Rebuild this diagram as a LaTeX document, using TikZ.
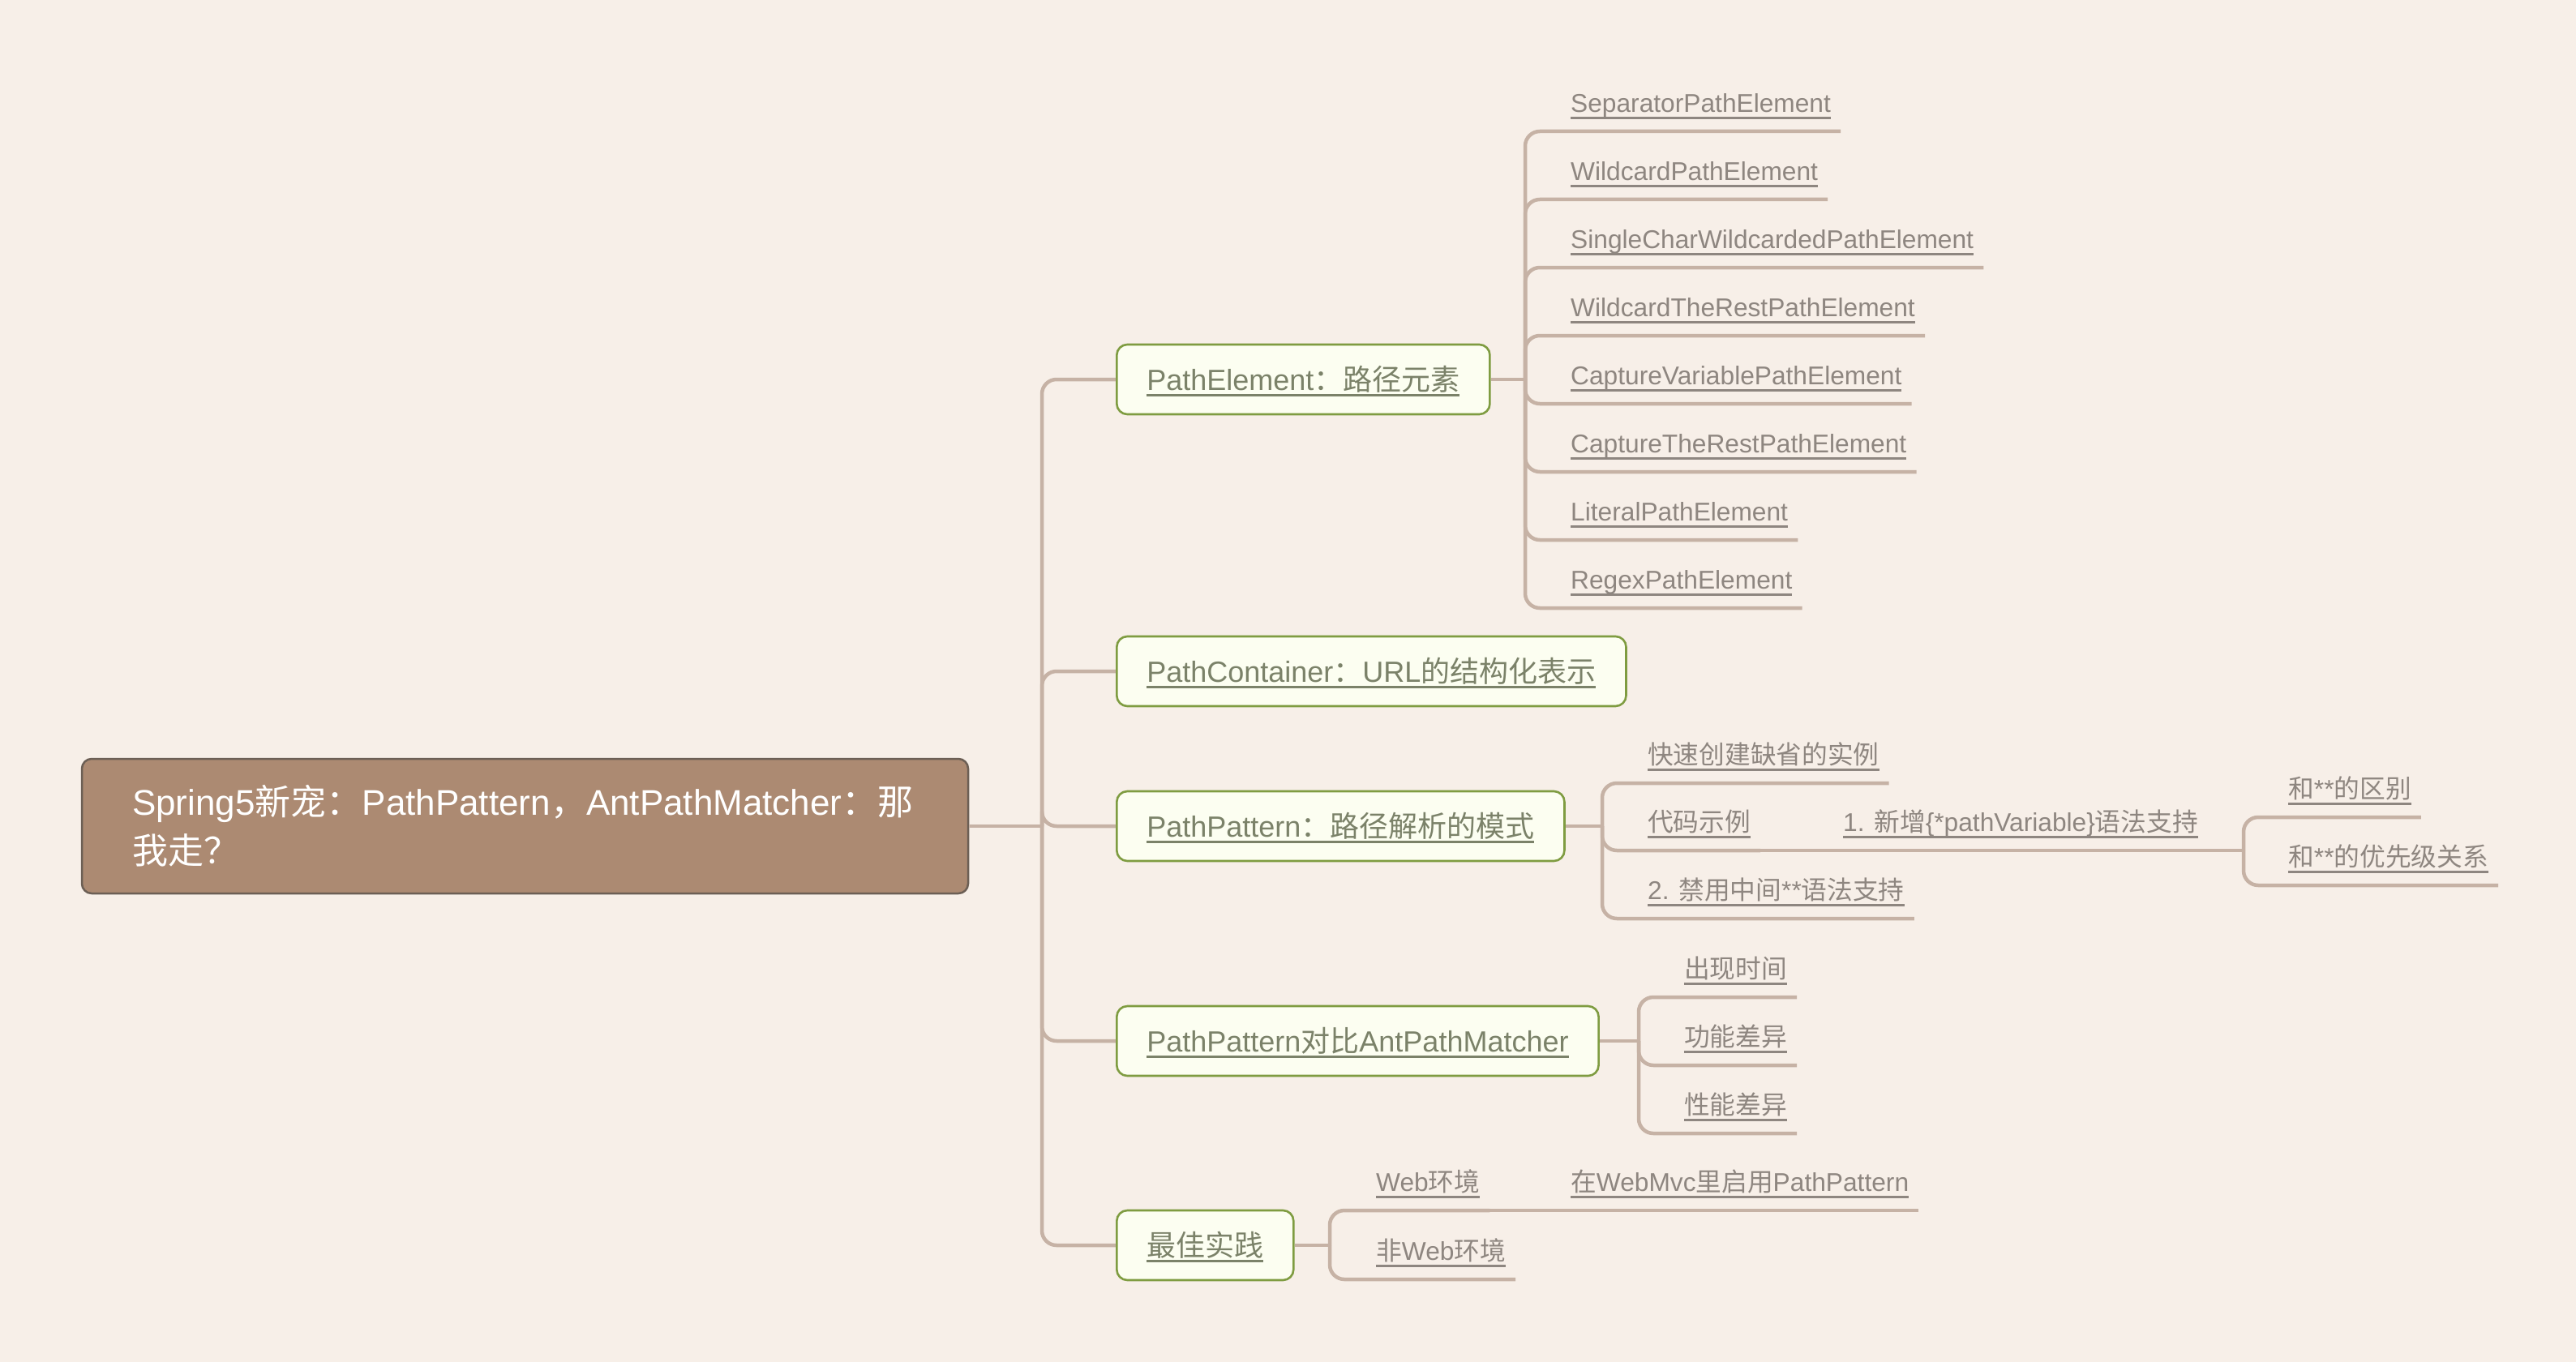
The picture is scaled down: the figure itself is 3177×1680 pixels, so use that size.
\documentclass[tikz,border=0pt]{standalone}
\usepackage{fontspec}
\setmainfont{Liberation Sans}
\newfontfamily\cjk{Noto Sans CJK SC}
\definecolor{bgc}{HTML}{F7EFE8}
\definecolor{rootfill}{HTML}{AC8A72}
\definecolor{rootdraw}{HTML}{6C5F55}
\definecolor{boxfill}{HTML}{FCFEF1}
\definecolor{boxdraw}{HTML}{7F9C41}
\definecolor{boxtext}{HTML}{7B8269}
\definecolor{leaftext}{HTML}{8E8680}
\definecolor{linec}{HTML}{C6B2A5}
\newcommand\ulmark[1]{\setbox0=\hbox{#1}\rlap{\rule[-8pt]{\wd0}{2.6pt}}\box0}
\begin{document}
\begin{tikzpicture}[x=1pt,y=-1pt,
  rootbox/.style={draw=rootdraw, fill=rootfill, line width=2.5pt, rounded corners=12pt, text=white, align=left, text width=969pt, inner xsep=62pt, inner ysep=0pt, minimum height=166pt, font=\fontsize{44}{60}\selectfont},
  topic/.style={draw=boxdraw, fill=boxfill, line width=2.6pt, rounded corners=13pt, text=boxtext, inner xsep=37pt, inner ysep=0pt, minimum height=86pt, text height=30pt, text depth=4pt, anchor=west, font=\fontsize{36}{40}\selectfont},
  leaf/.style={text=leaftext, inner xsep=12pt, inner ysep=0pt, text height=24pt, text depth=23pt, anchor=south west, font=\fontsize{31.7}{36}\selectfont},
  conn/.style={draw=linec, line width=4.5pt, rounded corners=18pt}]
\fill[bgc] (0,0) rectangle (3177,1680);
\useasboundingbox (0,0) rectangle (3177,1680);

% root
\node[rootbox] (root) at (647.5,1019) {Spring5{\cjk 新宠：}PathPattern{\cjk ，}AntPathMatcher{\cjk ：那}\\{\cjk 我走？}};

% level 1
\node[topic] (pe) at (1376,468) {\ulmark{PathElement{\cjk ：路径元素}}};
\node[topic] (pc) at (1376,828) {\ulmark{PathContainer{\cjk ：}URL{\cjk 的结构化表示}}};
\node[topic] (pp) at (1376,1019) {\ulmark{PathPattern{\cjk ：路径解析的模式}}};
\node[topic] (cb) at (1376,1284) {\ulmark{PathPattern{\cjk 对比}AntPathMatcher}};
\node[topic] (zj) at (1376,1536) {\ulmark{{\cjk 最佳实践}}};

% PathElement leaves
\node[leaf] (s1) at (1925,162) {\ulmark{SeparatorPathElement}};
\node[leaf] (s2) at (1925,246) {\ulmark{WildcardPathElement}};
\node[leaf] (s3) at (1925,330) {\ulmark{SingleCharWildcardedPathElement}};
\node[leaf] (s4) at (1925,414) {\ulmark{WildcardTheRestPathElement}};
\node[leaf] (s5) at (1925,498) {\ulmark{CaptureVariablePathElement}};
\node[leaf] (s6) at (1925,582) {\ulmark{CaptureTheRestPathElement}};
\node[leaf] (s7) at (1925,666) {\ulmark{LiteralPathElement}};
\node[leaf] (s8) at (1925,750) {\ulmark{RegexPathElement}};

% PathPattern leaves
\node[leaf] (ks) at (2020,966) {\ulmark{{\cjk 快速创建缺省的实例}}};
\node[leaf] (dm) at (2020,1049) {\ulmark{{\cjk 代码示例}}};
\node[leaf] (jy) at (2020,1133) {\ulmark{2. {\cjk 禁用中间}**{\cjk 语法支持}}};
\node[leaf] (xz) at (2261,1049) {\ulmark{1. {\cjk 新增}\{*pathVariable\}{\cjk 语法支持}}};
\node[leaf] (h1) at (2810,1008) {\ulmark{{\cjk 和}**{\cjk 的区别}}};
\node[leaf] (h2) at (2810,1092) {\ulmark{{\cjk 和}**{\cjk 的优先级关系}}};

% compare leaves
\node[leaf] (c1) at (2065,1230) {\ulmark{{\cjk 出现时间}}};
\node[leaf] (c2) at (2065,1314) {\ulmark{{\cjk 功能差异}}};
\node[leaf] (c3) at (2065,1398) {\ulmark{{\cjk 性能差异}}};

% best practice leaves
\node[leaf] (web) at (1685,1493) {\ulmark{Web{\cjk 环境}}};
\node[leaf] (mvc) at (1925,1493) {\ulmark{{\cjk 在}WebMvc{\cjk 里启用}PathPattern}};
\node[leaf] (nweb) at (1685,1578) {\ulmark{{\cjk 非}Web{\cjk 环境}}};

% junction coordinates
\coordinate (t0) at (1285,1019);
\coordinate (pej) at (1881,468);
\coordinate (ppj) at (1976,1019);
\coordinate (xzj) at (2767,1049);
\coordinate (cbj) at (2021,1284);
\coordinate (zjj) at (1640,1536);

% trunk
\draw[conn] (root.east) -- (t0);
\foreach \n in {pe,pc,pp,cb,zj} \draw[conn] (t0) |- (\n.west);

% PathElement
\draw[conn] (pe.east) -- (pej);
\foreach \n in {s1,s2,s3,s4,s5,s6,s7,s8} \draw[conn] (pej) |- (\n.south east);

% PathPattern
\draw[conn] (pp.east) -- (ppj);
\foreach \n in {ks,dm,jy} \draw[conn] (ppj) |- (\n.south east);
\draw[conn] (dm.south east) -- (xz.south east);
\draw[conn] (xz.south east) -- (xzj);
\foreach \n in {h1,h2} \draw[conn] (xzj) |- (\n.south east);

% compare
\draw[conn] (cb.east) -- (cbj);
\foreach \n in {c1,c2,c3} \draw[conn] (cbj) |- (\n.south east);

% best practice
\draw[conn] (zj.east) -- (zjj);
\foreach \n in {web,nweb} \draw[conn] (zjj) |- (\n.south east);
\draw[conn] (web.south east) -- (mvc.south east);
\end{tikzpicture}
\end{document}
